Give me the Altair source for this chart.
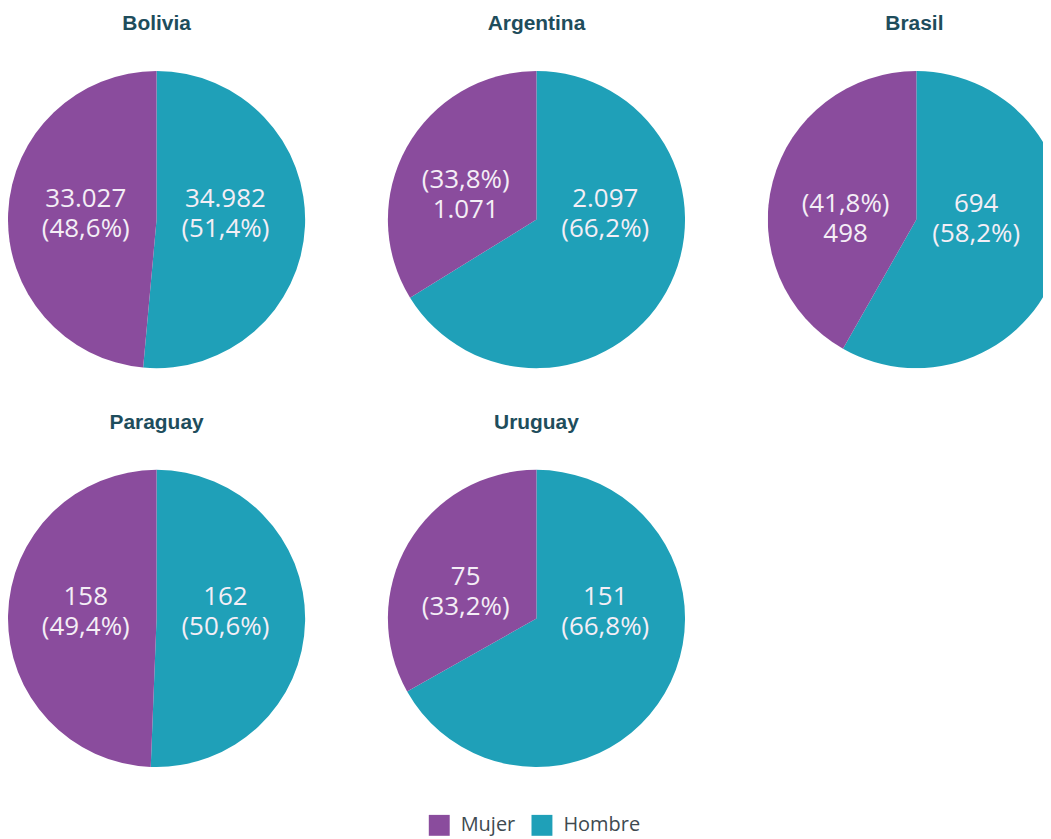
import altair as alt
import pandas as pd

# ---- data ----
paises = ["Bolivia", "Argentina", "Brasil", "Paraguay", "Uruguay"]
mujeres = [33027, 1071, 498, 158, 75]
hombres = [34982, 2097, 694, 162, 151]
# slices whose label shows the percentage first (as in the original)
pct_primero = {("Argentina", "Mujer"), ("Brasil", "Mujer")}

generos = ["Mujer", "Hombre"]
colores = ["#8A4C9D", "#1FA0B8"]


def fmt_miles(v):
    return f"{v:,}".replace(",", ".")


def fmt_pct(p):
    return "(" + f"{p:.1f}".replace(".", ",") + "%)"


rows = []
for pais, m, h in zip(paises, mujeres, hombres):
    tot = m + h
    for g, v, orden in (("Hombre", h, 0), ("Mujer", m, 1)):
        frac = v / tot
        a, b = fmt_miles(v), fmt_pct(frac * 100)
        etiqueta = f"{b}\n{a}" if (pais, g) in pct_primero else f"{a}\n{b}"
        rows.append(dict(pais=pais, genero=g, valor=v, orden=orden,
                         frac=frac, etiqueta=etiqueta))
df = pd.DataFrame(rows)

R = 149          # pie radius
SIZE = 2 * R     # panel size
TITLE_COLOR = "#1E4D5C"


def pie(pais, width=SIZE, cx=R, title_dx=0, clip=False, right_off=69, first_dy=21):
    base = alt.Chart(df).transform_filter(alt.datum.pais == pais)
    arcs = base.mark_arc(radius=R, clip=clip).encode(
        theta=alt.Theta("valor:Q", stack=True),
        order=alt.Order("orden:Q"),
        color=alt.Color(
            "genero:N",
            scale=alt.Scale(domain=generos, range=colores),
            legend=alt.Legend(
                title=None, orient="none", direction="horizontal",
                legendX=422, legendY=746, padding=0,
                symbolType="square", symbolSize=440, symbolStrokeWidth=0,
                labelFont="Open Sans", labelFontSize=20, labelColor="#3E4A50",
                labelOffset=11, columnPadding=16,
            ),
        ),
        x=alt.value(cx),
        y=alt.value(R),
    )
    texts = base.transform_calculate(
        ty=f"{R} - {first_dy} - max(0, 0.40 - datum.frac) * 300"
    ).mark_text(
        font="Open Sans", fontSize=26, color="#F4EEF6", lineBreak="\n",
        lineHeight=30, align="center", baseline="middle", clip=clip,
    ).encode(
        x=alt.X("genero:N", axis=None,
                scale=alt.Scale(domain=generos, range=[cx - 71, cx + right_off], padding=0)),
        y=alt.Y("ty:Q", axis=None, scale=None),
        text="etiqueta:N",
    )
    return alt.layer(arcs, texts).properties(
        width=width, height=SIZE,
        title=alt.TitleParams(
            pais, font="Liberation Sans", fontSize=21, fontWeight="bold",
            color=TITLE_COLOR, offset=37, dx=title_dx,
        ),
    )


row1 = alt.hconcat(
    pie("Bolivia"), pie("Argentina"),
    pie("Brasil", width=276, title_dx=9, clip=True, right_off=60, first_dy=16),
    spacing=83,
)
row2 = alt.hconcat(pie("Paraguay"), pie("Uruguay"), spacing=83)

chart = alt.vconcat(row1, row2, spacing=44).properties(
    padding={"left": 0, "right": 0, "top": 4, "bottom": 0}
).configure_view(stroke=None).configure_concat(spacing=83)

chart.save("out.html", embed_options={"renderer": "svg", "actions": False})
